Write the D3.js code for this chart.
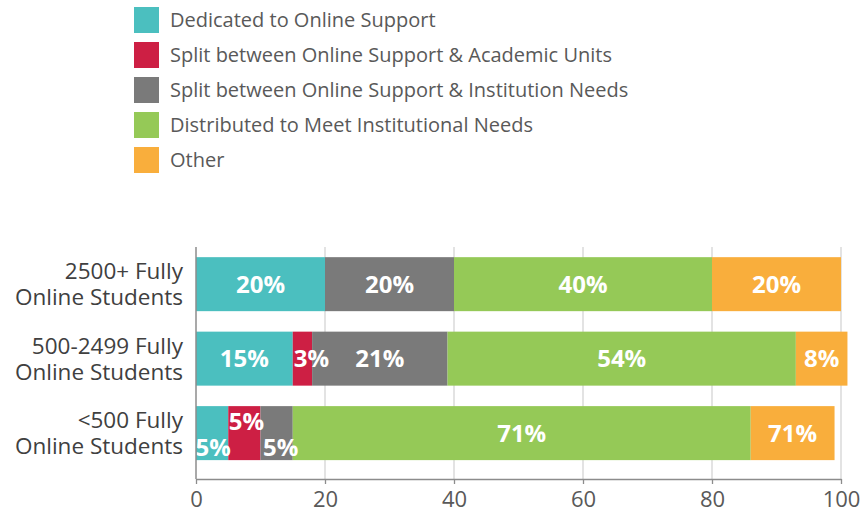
<!doctype html>
<html lang="en">
<head>
<meta charset="UTF-8">
<title>Online support funding</title>
<script src="https://d3js.org/d3.v7.min.js"></script>
<style>
  body { margin: 0; background: #fff; }
  text { font-family: "Open Sans", "Noto Sans", sans-serif; }
</style>
</head>
<body>
<div id="chart-area"></div>
<script>

// data
const categories = ['2500+', '500-2499', '<500'];
const categoryLines = [
    ['2500+ Fully', 'Online Students'],
    ['500-2499 Fully', 'Online Students'],
    ['<500 Fully', 'Online Students']
];
const seriesNames = [
    'Dedicated to Online Support',
    'Split between Online Support & Academic Units',
    'Split between Online Support & Institution Needs',
    'Distributed to Meet Institutional Needs',
    'Other'
];
const dedicated   = [20, 15, 5];
const splitAcad   = [0, 3, 5];
const splitInst   = [20, 21, 5];
const distributed = [40, 54, 71];
const other       = [20, 8, 13];
// labels as printed on the bars (one per series, per category)
const barLabels = [
    ['20%', '', '20%', '40%', '20%'],
    ['15%', '3%', '21%', '54%', '8%'],
    ['5%', '5%', '5%', '71%', '71%']
];
const xTicks = [0, 20, 40, 60, 80, 100];

const colors = ['#4bbfbf', '#cd1f44', '#7a7a7a', '#95c957', '#f9ae3c'];
const keys = ['dedicated', 'splitAcad', 'splitInst', 'distributed', 'other'];

const W = 864, H = 512;
const plot = { left: 196, right: 841, top: 247, bottom: 479 };

const svg = d3.select('#chart-area')
    .append('svg')
    .attr('width', W)
    .attr('height', H);

// legend
const legend = svg.append('g').attr('transform', 'translate(134,7)');
const li = legend.selectAll('g').data(seriesNames).enter().append('g')
    .attr('transform', (d, i) => `translate(0,${i * 35})`);
li.append('rect')
    .attr('width', 25).attr('height', 26)
    .attr('fill', (d, i) => colors[i]);
li.append('text')
    .attr('x', 36).attr('y', 13)
    .attr('dy', '0.35em')
    .attr('font-size', '20px')
    .attr('fill', '#595959')
    .text(d => d);

// table for the stack
const table = categories.map((c, i) => ({
    cat: c,
    dedicated: dedicated[i],
    splitAcad: splitAcad[i],
    splitInst: splitInst[i],
    distributed: distributed[i],
    other: other[i]
}));
const stacked = d3.stack().keys(keys)(table);

const x = d3.scaleLinear().domain([0, 100]).range([plot.left, plot.right]);
const y = d3.scaleBand()
    .domain(categories)
    .range([plot.top, plot.bottom])
    .paddingInner(0.275)
    .paddingOuter(0.195)
    .align(0.35);

// grid
svg.append('g').selectAll('line')
    .data(xTicks.filter(d => d > 0)).enter().append('line')
    .attr('x1', d => x(d)).attr('x2', d => x(d))
    .attr('y1', plot.top).attr('y2', plot.bottom)
    .attr('stroke', '#d4d4d4').attr('stroke-width', 1.3);

// bars
const layers = svg.append('g').selectAll('g')
    .data(stacked).enter().append('g')
    .attr('fill', (d, i) => colors[i]);
layers.selectAll('rect')
    .data(d => d).enter().append('rect')
    .attr('x', d => x(d[0]))
    .attr('y', d => y(d.data.cat))
    .attr('width', d => x(d[1]) - x(d[0]))
    .attr('height', y.bandwidth());

// small nudges so narrow labels don't collide
const labelNudge = {
    '1-1': [9, 0],
    '2-0': [1, 14], '2-1': [2, -12], '2-2': [4, 14]
};

const labelG = svg.append('g');
stacked.forEach((layer, si) => {
    layer.forEach((d, ci) => {
        const t = barLabels[ci][si];
        if (!t) return;
        const n = labelNudge[ci + '-' + si] || [0, 0];
        labelG.append('text')
            .attr('x', (x(d[0]) + x(d[1])) / 2 + n[0])
            .attr('y', y(d.data.cat) + y.bandwidth() / 2 + n[1])
            .attr('dy', '0.36em')
            .attr('text-anchor', 'middle')
            .attr('font-size', '24px')
            .attr('font-weight', 'bold')
            .attr('fill', '#fff')
            .text(t);
    });
});

// x axis
const xAxis = svg.append('g')
    .attr('transform', `translate(0,${plot.bottom})`)
    .call(d3.axisBottom(x).tickValues(xTicks).tickSize(5).tickSizeOuter(0));
xAxis.select('.domain').attr('stroke', '#8c8c8c').attr('stroke-width', 1.5);
xAxis.selectAll('.tick line').attr('stroke', '#8c8c8c').attr('stroke-width', 1.3);
xAxis.selectAll('.tick text')
    .attr('y', 12)
    .attr('font-size', '22px')
    .attr('fill', '#595959');

// y axis line
svg.append('line')
    .attr('x1', plot.left).attr('x2', plot.left)
    .attr('y1', plot.top).attr('y2', plot.bottom)
    .attr('stroke', '#8c8c8c').attr('stroke-width', 1.5);

// category labels, two lines each
const catG = svg.append('g');
categories.forEach((c, i) => {
    const cy = y(c) + y.bandwidth() / 2;
    categoryLines[i].forEach((line, j) => {
        catG.append('text')
            .attr('x', 183)
            .attr('y', cy + (j - 0.5) * 26)
            .attr('dy', '0.36em')
            .attr('text-anchor', 'end')
            .attr('font-size', '22.5px')
            .attr('fill', '#404040')
            .text(line);
    });
});

</script>
</body>
</html>
